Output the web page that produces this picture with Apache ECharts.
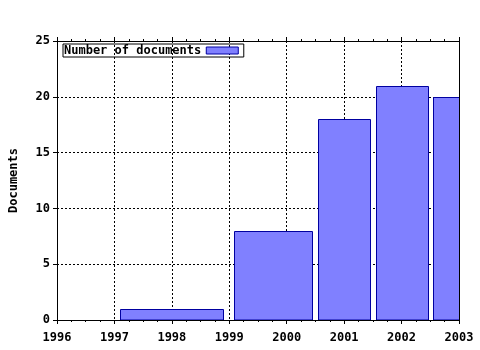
<!DOCTYPE html>
<html>
<head>
<meta charset="utf-8">
<script src="https://cdn.jsdelivr.net/npm/echarts@6/dist/echarts.min.js"></script>
<style>html,body{margin:0;padding:0;background:#fff}#c{width:480px;height:350px}</style>
</head>
<body>
<div id="c"></div>
<script>
var years = [1998, 2000, 2001, 2002, 2003];
var documents = [1, 8, 18, 21, 20];
var xTickMin = 1996, xTickMax = 2003;
var yTicks = [0, 5, 10, 15, 20, 25];
var seriesName = 'Number of documents';
var yTitle = 'Documents';

var BOX_REL = 0.9;
var FONT = 'DejaVu Sans Mono';
var fillColor = '#8080ff';
var edgeColor = '#0000a0';

// gnuplot-style boxes: each box spans the midpoints to neighbours, scaled by BOX_REL
var boxData = years.map(function (x, i) {
  var left = i > 0 ? (years[i - 1] + x) / 2 : x - (years[i + 1] - x) / 2;
  var right = i < years.length - 1 ? (x + years[i + 1]) / 2 : x + (x - years[i - 1]) / 2;
  var c = (left + right) / 2, w = (right - left) * BOX_REL;
  return [c - w / 2, c + w / 2, documents[i]];
});

var chart = echarts.init(document.getElementById('c'), null, {renderer: 'canvas'});
var labelStyle = {color: '#000', fontFamily: FONT, fontWeight: 'bold', fontSize: 12};
chart.setOption({
  animation: false,
  backgroundColor: '#fff',
  grid: {left: 57, top: 41, width: 402, height: 279, show: false, containLabel: false, outerBoundsMode: 'none'},
  legend: {
    data: [{name: seriesName, icon: 'rect'}],
    left: 63, top: 44, orient: 'horizontal', align: 'right',
    itemWidth: 32, itemHeight: 7, itemGap: 0,
    padding: [0, 5, 0, 1],
    borderColor: '#000', borderWidth: 1,
    textStyle: {color: '#000', fontFamily: FONT, fontWeight: 'bold', fontSize: 12, padding: [1, 0, 0, 0], lineHeight: 12},
    itemStyle: {color: fillColor, borderColor: edgeColor, borderWidth: 1}
  },
  xAxis: [{
    type: 'value', min: xTickMin, max: xTickMax, interval: 1,
    axisLine: {show: true, onZero: false, lineStyle: {color: '#000', width: 1}},
    axisTick: {show: true, inside: false, length: 4, lineStyle: {color: '#000'}},
    minorTick: {show: true, splitNumber: 4, length: 2, lineStyle: {color: '#000'}},
    axisLabel: Object.assign({margin: 12, formatter: function (v) { return String(v); }}, labelStyle),
    splitLine: {show: true, lineStyle: {color: '#000', type: [2, 2], width: 1}}
  }, {
    type: 'value', position: 'top', min: xTickMin, max: xTickMax, interval: 1,
    axisLine: {show: true, onZero: false, lineStyle: {color: '#000', width: 1}},
    axisTick: {show: true, inside: false, length: 4, lineStyle: {color: '#000'}},
    minorTick: {show: true, splitNumber: 4, length: 2, lineStyle: {color: '#000'}},
    axisLabel: {show: false}, splitLine: {show: false}
  }],
  yAxis: [{
    type: 'value', min: yTicks[0], max: yTicks[yTicks.length - 1], interval: yTicks[1] - yTicks[0],
    name: yTitle, nameLocation: 'middle', nameGap: 37, nameRotate: 90,
    nameTextStyle: labelStyle,
    axisLine: {show: true, onZero: false, lineStyle: {color: '#000', width: 1}},
    axisTick: {show: true, inside: false, length: 4, lineStyle: {color: '#000'}},
    axisLabel: Object.assign({margin: 7}, labelStyle),
    splitLine: {show: true, lineStyle: {color: '#000', type: [2, 2], width: 1}}
  }, {
    type: 'value', position: 'right', min: yTicks[0], max: yTicks[yTicks.length - 1], interval: yTicks[1] - yTicks[0],
    axisLine: {show: true, onZero: false, lineStyle: {color: '#000', width: 1}},
    axisTick: {show: false}, axisLabel: {show: false}, splitLine: {show: false}
  }],
  series: [{
    name: seriesName,
    type: 'custom',
    clip: true,
    itemStyle: {color: fillColor, borderColor: edgeColor, borderWidth: 1},
    encode: {x: [0, 1], y: 2},
    data: boxData,
    renderItem: function (params, api) {
      var p0 = api.coord([api.value(0), api.value(2)]);
      var p1 = api.coord([api.value(1), 0]);
      var rect = {x: Math.round(p0[0]) + 0.5, y: Math.round(p0[1]) + 0.5,
                  width: Math.round(p1[0] - p0[0]), height: Math.round(p1[1] - p0[1])};
      var cs = params.coordSys;
      var clipped = echarts.graphic.clipRectByRect(rect, {x: cs.x, y: cs.y, width: cs.width + 1, height: cs.height});
      return clipped && {
        type: 'rect', shape: clipped,
        style: {fill: fillColor, stroke: edgeColor, lineWidth: 1}
      };
    }
  }]
});
</script>
</body>
</html>
